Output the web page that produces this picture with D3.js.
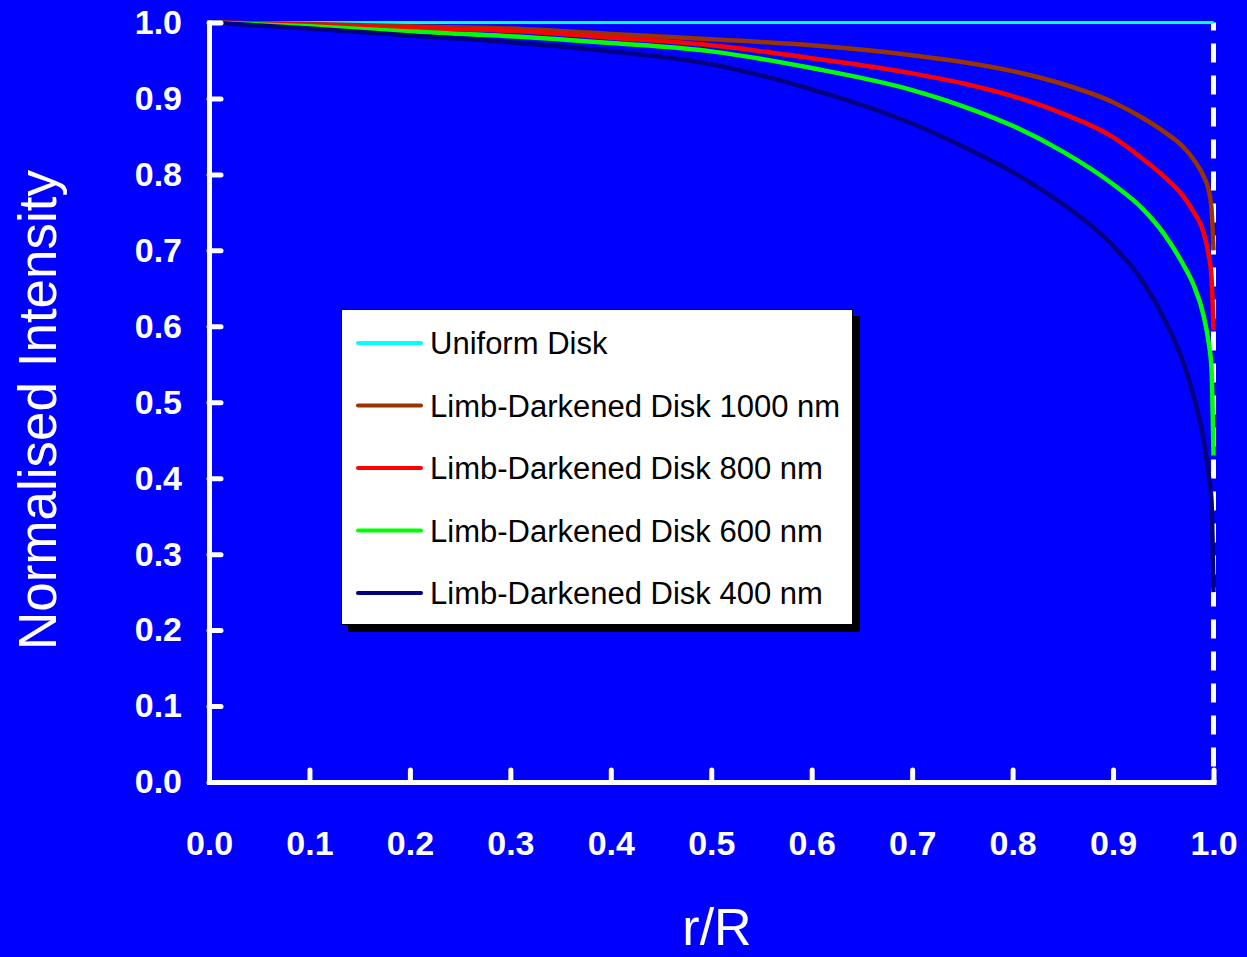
<!DOCTYPE html>
<html>
<head>
<meta charset="utf-8">
<script src="https://cdn.jsdelivr.net/npm/d3@7"></script>
<style>
  html, body { margin: 0; padding: 0; background: #0000FF; }
  svg { display: block; }
  text { font-family: "Liberation Sans", Arial, sans-serif; }
</style>
</head>
<body>
<svg id="chart" width="1247" height="957"></svg>
<script>
// ---- data ----
const rValues = [0, 0.1, 0.2, 0.3, 0.4, 0.5, 0.6, 0.7, 0.75, 0.8, 0.85, 0.9, 0.93, 0.95, 0.97, 0.98, 0.99, 0.995, 0.998, 1.0];
const uniformDisk = [1, 1, 1, 1, 1, 1, 1, 1, 1, 1, 1, 1, 1, 1, 1, 1, 1, 1, 1, 1];
const ld1000 = [1.0, 0.998, 0.995, 0.992, 0.985, 0.978, 0.970, 0.957, 0.948, 0.936, 0.919, 0.895, 0.874, 0.857, 0.836, 0.820, 0.798, 0.780, 0.755, 0.700];
const ld800  = [1.0, 0.997, 0.993, 0.989, 0.980, 0.970, 0.953, 0.933, 0.920, 0.903, 0.880, 0.849, 0.820, 0.798, 0.771, 0.751, 0.724, 0.695, 0.665, 0.595];
const ld600  = [1.0, 0.995, 0.988, 0.982, 0.973, 0.962, 0.940, 0.911, 0.890, 0.864, 0.830, 0.787, 0.754, 0.723, 0.681, 0.655, 0.615, 0.580, 0.545, 0.430];
const ld400  = [1.0, 0.992, 0.983, 0.974, 0.962, 0.945, 0.912, 0.867, 0.837, 0.803, 0.761, 0.706, 0.658, 0.612, 0.552, 0.509, 0.452, 0.406, 0.370, 0.250];
const seriesNames = ["Uniform Disk", "Limb-Darkened Disk 1000 nm", "Limb-Darkened Disk 800 nm", "Limb-Darkened Disk 600 nm", "Limb-Darkened Disk 400 nm"];
const seriesColors = ["#00FFFF", "#993300", "#FF0000", "#00FF00", "#000080"];
const tickValues = [0, 0.1, 0.2, 0.3, 0.4, 0.5, 0.6, 0.7, 0.8, 0.9, 1.0];
const xTitle = "r/R";
const yTitle = "Normalised Intensity";

const seriesValues = [uniformDisk, ld1000, ld800, ld600, ld400];

// ---- layout ----
const svg = d3.select("#chart");
const x = d3.scaleLinear().domain([0, 1]).range([209, 1213.5]);
const y = d3.scaleLinear().domain([0, 1]).range([782, 22.5]);

svg.append("rect").attr("width", 1247).attr("height", 957).attr("fill", "#0000FF");

// dashed line at r/R = 1
svg.append("line")
  .attr("x1", x(1)).attr("x2", x(1))
  .attr("y1", y(1)).attr("y2", y(0))
  .attr("stroke", "#FFFFFF").attr("stroke-width", 5)
  .attr("stroke-dasharray", "19,13").attr("stroke-dashoffset", 11);

// curves
const line = d3.line()
  .x(d => x(d[0])).y(d => y(d[1]))
  .curve(d3.curveMonotoneX);

seriesValues.forEach((vals, i) => {
  const pts = rValues.map((r, j) => [r, vals[j]]);
  svg.append("path")
    .datum(pts)
    .attr("d", line)
    .attr("fill", "none")
    .attr("stroke", seriesColors[i])
    .attr("stroke-width", i === 0 ? 3 : 4.5)
    .attr("stroke-linejoin", "round");
});

// axes
const fmt = d3.format(".1f");
const yAxis = svg.append("g")
  .attr("transform", `translate(${x(0)},0)`)
  .call(d3.axisLeft(y).tickValues(tickValues).tickFormat(fmt).tickSizeInner(-12).tickSizeOuter(0).tickPadding(27));
const xAxis = svg.append("g")
  .attr("transform", `translate(0,${y(0)})`)
  .call(d3.axisBottom(x).tickValues(tickValues).tickFormat(fmt).tickSizeInner(-12).tickSizeOuter(0).tickPadding(49));

[yAxis, xAxis].forEach(g => {
  g.select(".domain").attr("stroke", "#FFFFFF").attr("stroke-width", 5).attr("stroke-linecap", "square");
  g.selectAll(".tick line").attr("stroke", "#FFFFFF").attr("stroke-width", 5).attr("stroke-linecap", "round");
  g.selectAll(".tick text")
    .attr("fill", "#FFFFFF")
    .style("font-family", "'Liberation Sans', Arial, sans-serif")
    .style("font-size", "34px")
    .style("font-weight", "bold");
});

// axis titles
svg.append("text")
  .attr("x", 717).attr("y", 945)
  .attr("text-anchor", "middle")
  .attr("fill", "#FFFFFF")
  .style("font-size", "52px")
  .text(xTitle);

svg.append("text")
  .attr("transform", "translate(56,410) rotate(-90)")
  .attr("text-anchor", "middle")
  .attr("fill", "#FFFFFF")
  .style("font-size", "53px")
  .text(yTitle);

// legend
const lg = svg.append("g");
lg.append("rect").attr("x", 348).attr("y", 316).attr("width", 512).attr("height", 316).attr("fill", "#000000");
lg.append("rect").attr("x", 341.5).attr("y", 309.5).attr("width", 511).attr("height", 315)
  .attr("fill", "#FFFFFF").attr("stroke", "#000000").attr("stroke-width", 1);

seriesNames.forEach((name, i) => {
  const cy = 343 + i * 62.5;
  lg.append("line")
    .attr("x1", 358).attr("x2", 421).attr("y1", cy).attr("y2", cy)
    .attr("stroke", seriesColors[i]).attr("stroke-width", 4).attr("stroke-linecap", "round");
  lg.append("text")
    .attr("x", 430).attr("y", cy + 11)
    .attr("fill", "#000000")
    .style("font-size", "31px")
    .text(name);
});
</script>
</body>
</html>
